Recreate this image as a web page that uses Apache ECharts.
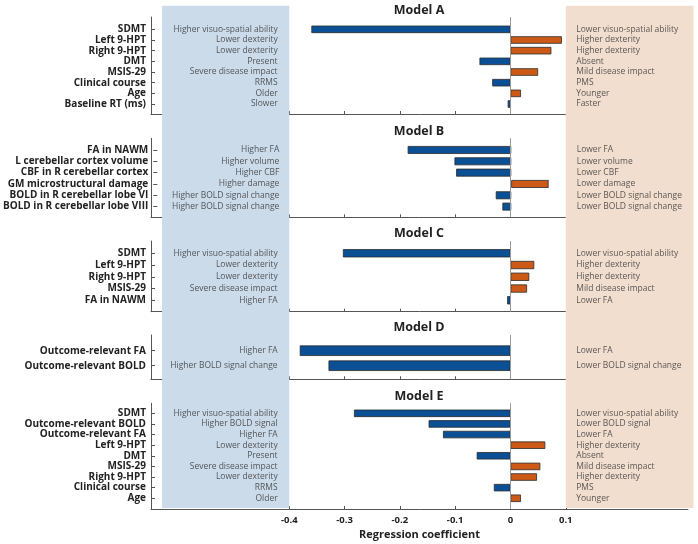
<!DOCTYPE html>
<html>
<head>
<meta charset="utf-8">
<title>Regression coefficients by model</title>
<script src="https://cdn.jsdelivr.net/npm/echarts@6/dist/echarts.min.js"></script>
<style>
    html, body { margin: 0; padding: 0; background: #fff; }
    #chart { width: 698px; height: 544px; }
</style>
</head>
<body>
<div id="chart"></div>
<script>
// Model A
var A_NAMES  = ['SDMT','Left 9-HPT','Right 9-HPT','DMT','MSIS-29','Clinical course','Age','Baseline RT (ms)'];
var A_VALUES = [-0.360, 0.093, 0.074, -0.056, 0.050, -0.033, 0.019, -0.005];
var A_NEG    = ['Higher visuo-spatial ability','Lower dexterity','Lower dexterity','Present','Severe disease impact','RRMS','Older','Slower'];
var A_POS    = ['Lower visuo-spatial ability','Higher dexterity','Higher dexterity','Absent','Mild disease impact','PMS','Younger','Faster'];

// Model B
var B_NAMES  = ['FA in NAWM','L cerebellar cortex volume','CBF in R cerebellar cortex','GM microstructural damage','BOLD in R cerebellar lobe VI','BOLD in R cerebellar lobe VIII'];
var B_VALUES = [-0.188, -0.103, -0.100, 0.068, -0.028, -0.016];
var B_NEG    = ['Higher FA','Higher volume','Higher CBF','Higher damage','Higher BOLD signal change','Higher BOLD signal change'];
var B_POS    = ['Lower FA','Lower volume','Lower CBF','Lower damage','Lower BOLD signal change','Lower BOLD signal change'];

// Model C
var C_NAMES  = ['SDMT','Left 9-HPT','Right 9-HPT','MSIS-29','FA in NAWM'];
var C_VALUES = [-0.303, 0.043, 0.034, 0.030, -0.006];
var C_NEG    = ['Higher visuo-spatial ability','Lower dexterity','Lower dexterity','Severe disease impact','Higher FA'];
var C_POS    = ['Lower visuo-spatial ability','Higher dexterity','Higher dexterity','Mild disease impact','Lower FA'];

// Model D
var D_NAMES  = ['Outcome-relevant FA','Outcome-relevant BOLD'];
var D_VALUES = [-0.381, -0.329];
var D_NEG    = ['Higher FA','Higher BOLD signal change'];
var D_POS    = ['Lower FA','Lower BOLD signal change'];

// Model E
var E_NAMES  = ['SDMT','Outcome-relevant BOLD','Outcome-relevant FA','Left 9-HPT','DMT','MSIS-29','Right 9-HPT','Clinical course','Age'];
var E_VALUES = [-0.283, -0.148, -0.122, 0.063, -0.061, 0.054, 0.048, -0.030, 0.019];
var E_NEG    = ['Higher visuo-spatial ability','Higher BOLD signal','Higher FA','Lower dexterity','Present','Severe disease impact','Lower dexterity','RRMS','Older'];
var E_POS    = ['Lower visuo-spatial ability','Lower BOLD signal','Lower FA','Higher dexterity','Absent','Mild disease impact','Higher dexterity','PMS','Younger'];

var TICKS = [-0.4, -0.3, -0.2, -0.1, 0, 0.1];
var AXIS_NAME = 'Regression coefficient';

(function(win){
    var FONT = 'Open Sans';
    var BLUE = '#0b4f95', ORANGE = '#cc5a16';
    var X_MIN = -0.65, X_MAX = 0.321, BG_MAX = 0.331;
    var PX = 553, LEFT = 151;

    /** panel layout: frame top/bottom, first band top, band size, title y */
    var panels = [
        {title:'Model A', names:A_NAMES, values:A_VALUES, neg:A_NEG, pos:A_POS, top:17,    bottom:114,   band:24,    step:10.67, ty:3.5},
        {title:'Model B', names:B_NAMES, values:B_VALUES, neg:B_NEG, pos:B_POS, top:138.3, bottom:217.3, band:144.3, step:11.33, ty:124.5},
        {title:'Model C', names:C_NAMES, values:C_VALUES, neg:C_NEG, pos:C_POS, top:241,   bottom:311.7, band:247.4, step:11.75, ty:226.5},
        {title:'Model D', names:D_NAMES, values:D_VALUES, neg:D_NEG, pos:D_POS, top:335,   bottom:379.3, band:343.2, step:15,    ty:321},
        {title:'Model E', names:E_NAMES, values:E_VALUES, neg:E_NEG, pos:E_POS, top:403.3, bottom:509,   band:408,   step:10.62, ty:389.5}
    ];

    var grids = [], xAxes = [], yAxes = [], series = [], titles = [];

    // shaded background across all panels
    grids.push({left: LEFT, top: 5.7, width: (BG_MAX - X_MIN) * PX, height: 508 - 5.7});
    xAxes.push({type:'value', gridIndex:0, min:X_MIN, max:BG_MAX, show:false});
    yAxes.push({type:'value', gridIndex:0, min:0, max:1, show:false});
    series.push({
        type:'line', xAxisIndex:0, yAxisIndex:0, data:[], silent:true,
        markArea: {
            silent:true,
            data: [
                [{xAxis:-0.63, itemStyle:{color:'#cbdbea'}}, {xAxis:-0.4}],
                [{xAxis:0.1, itemStyle:{color:'#f2decf'}}, {xAxis:BG_MAX}]
            ]
        }
    });

    var width = (X_MAX - X_MIN) * PX;
    for(var i=0,len=panels.length;i<len;i++){
        var p = panels[i];
        var last = i === len - 1;
        var og = grids.length, ig = og + 1;
        grids.push({left:LEFT, top:p.top, width:width, height:p.bottom - p.top});
        grids.push({left:LEFT, top:p.band, width:width, height:p.step * p.names.length});

        // frame axes
        xAxes.push({
            type:'value', gridIndex:og, min:X_MIN, max:X_MAX,
            axisLine:{onZero:false, lineStyle:{color:'#555', width:1}},
            axisTick:{inside:true, length:3, customValues:TICKS, lineStyle:{color:'#555'}},
            axisLabel:{show:last, customValues:TICKS, color:'#222', fontFamily:FONT, fontWeight:'bold', fontSize:9.5, margin:6},
            splitLine:{show:false},
            name: last ? AXIS_NAME : '',
            nameLocation:'middle', nameGap:20,
            nameTextStyle:{color:'#222', fontFamily:FONT, fontWeight:'bold', fontSize:11}
        });
        yAxes.push({
            type:'value', gridIndex:og, min:0, max:1,
            axisLine:{show:true, onZero:false, lineStyle:{color:'#555', width:1}},
            axisTick:{show:false}, axisLabel:{show:false}, splitLine:{show:false}
        });
        // zero line
        series.push({
            type:'line', xAxisIndex:og, yAxisIndex:og, data:[], silent:true,
            markLine:{
                symbol:'none', silent:true, label:{show:false},
                lineStyle:{color:'#9a9a9a', type:'solid', width:1},
                data:[{xAxis:0}]
            }
        });

        // bar axes
        xAxes.push({type:'value', gridIndex:ig, min:X_MIN, max:X_MAX, show:false});
        yAxes.push({
            type:'category', gridIndex:ig, inverse:true, data:p.names,
            axisLine:{show:false, onZero:false},
            axisTick:{show:true, inside:true, alignWithLabel:true, interval:0, length:4, lineStyle:{color:'#555'}},
            axisLabel:{interval:0, color:'#222', fontFamily:FONT, fontWeight:'bold', fontSize:10, margin:5},
            splitLine:{show:false}
        });
        series.push({
            type:'bar', xAxisIndex:ig, yAxisIndex:ig, data:p.values, barWidth:'70%', z:3,
            itemStyle:{
                color:function(d){ return d.value < 0 ? BLUE : ORANGE; },
                borderColor:'#2b2b2b', borderWidth:0.8
            }
        });
        series.push(sideLabels(p.names, p.neg, -0.421, 'left', ig));
        series.push(sideLabels(p.names, p.pos, 0.119, 'right', ig));

        titles.push({
            text:p.title, left:419, top:p.ty, textAlign:'center', padding:0,
            textStyle:{color:'#222', fontFamily:FONT, fontWeight:'bold', fontSize:12.5}
        });
    }

    function sideLabels(names, texts, x, pos, idx){
        var pts = [];
        for(var k=0;k<names.length;k++) pts.push([x, k]);
        return {
            type:'scatter', xAxisIndex:idx, yAxisIndex:idx, data:pts, symbolSize:0, silent:true,
            label:{
                show:true, position:pos, distance:0, color:'#333', fontFamily:FONT, fontSize:8.5,
                formatter:function(d){ return texts[d.dataIndex]; }
            }
        };
    }

    var chart = echarts.init(document.getElementById('chart'), null, {renderer:'canvas'});
    chart.setOption({
        animation:false,
        title:titles,
        grid:grids,
        xAxis:xAxes,
        yAxis:yAxes,
        series:series
    });
})(window);
</script>
</body>
</html>
